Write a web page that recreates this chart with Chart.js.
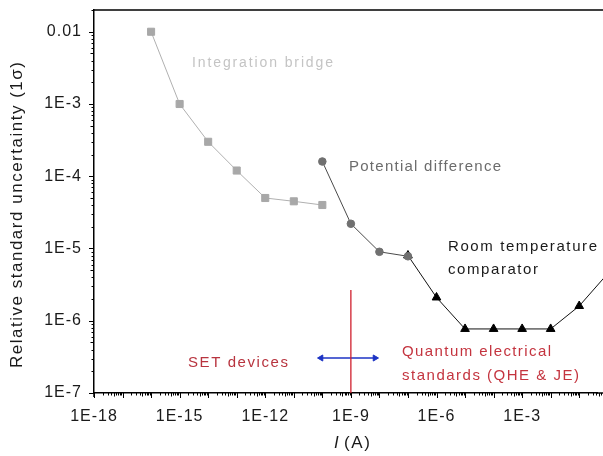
<!DOCTYPE html>
<html>
<head>
<meta charset="utf-8">
<script src="https://cdn.jsdelivr.net/npm/chart.js@4/dist/chart.umd.min.js"></script>
<style>
  html, body { margin: 0; padding: 0; background: #fff; }
  #caja { width: 603px; height: 456px; }
</style>
</head>
<body>
<div id="caja"><canvas id="incertidumbre"></canvas></div>
<script>
// DATOS: corriente I (A) contra incertidumbre relativa (1 sigma)

const puenteI = [1e-16, 1e-15, 1e-14, 1e-13, 1e-12, 1e-11, 1e-10]
const puenteU = [1e-2, 1e-3, 3e-4, 1.2e-4, 5e-5, 4.5e-5, 4e-5]

const potencialI = [1e-10, 1e-9, 1e-8, 1e-7]
const potencialU = [1.6e-4, 2.2e-5, 9e-6, 7.8e-6]

const comparadorI = [1e-7, 1e-6, 1e-5, 1e-4, 1e-3, 1e-2, 1e-1, 1]
const comparadorU = [8e-6, 2.1e-6, 7.7e-7, 7.7e-7, 7.7e-7, 7.7e-7, 1.6e-6, 4.5e-6]

// linea roja en 1 nA y flecha azul
const lineaRojaI = [1e-9, 1e-9]
const lineaRojaU = [2.66e-6, 1e-7]
const flechaI = [9e-11, 7e-9]
const flechaU = [3.05e-7, 3.05e-7]

const ticksX = [1e-18, 1e-15, 1e-12, 1e-9, 1e-6, 1e-3]
const etiquetasX = ['1E-18', '1E-15', '1E-12', '1E-9', '1E-6', '1E-3']
const ticksY = [1e-2, 1e-3, 1e-4, 1e-5, 1e-6, 1e-7]
const etiquetasY = ['0.01', '1E-3', '1E-4', '1E-5', '1E-6', '1E-7']

const FUENTE = '"Liberation Sans", Arial, sans-serif'

const puntos = (xs, ys) => xs.map((x, i) => ({ x: x, y: ys[i] }))

function etiqueta(valores, textos, v) {
    const i = valores.findIndex((t) => Math.abs(Math.log10(t) - Math.log10(v)) < 1e-6)
    return i >= 0 ? textos[i] : ''
}

// texto con espaciado ajustado a un ancho
function texto(ctx, str, x, y, ancho, size, color, estilo) {
    ctx.font = (estilo || '') + ' ' + size + 'px ' + FUENTE
    ctx.letterSpacing = '0px'
    const w = ctx.measureText(str).width
    const sp = str.length > 1 ? (ancho - w) / (str.length - 1) : 0
    ctx.letterSpacing = Math.max(sp, 0) + 'px'
    ctx.fillStyle = color
    ctx.textAlign = 'left'
    ctx.textBaseline = 'middle'
    ctx.fillText(str, x, y)
    ctx.letterSpacing = '0px'
}

const marcas = {
    id: 'marcas',
    beforeDraw(chart) {
        chart.ctx.letterSpacing = '1px'
    },
    beforeDatasetsDraw(chart) {
        chart.ctx.letterSpacing = '0px'
    },
    afterDraw(chart) {
        const ctx = chart.ctx
        const a = chart.chartArea
        const sx = chart.scales.x
        const sy = chart.scales.y
        ctx.save()
        ctx.letterSpacing = '0px'
        ctx.strokeStyle = '#000'

        // marco superior hasta el borde
        ctx.lineWidth = 1.5
        ctx.beginPath()
        ctx.moveTo(a.left, a.top)
        ctx.lineTo(chart.width, a.top)
        ctx.moveTo(a.right, a.bottom)
        ctx.lineTo(chart.width, a.bottom)
        // el eje Y baja un poco bajo el eje X
        ctx.moveTo(a.left, a.bottom)
        ctx.lineTo(a.left, a.bottom + 4)
        ctx.stroke()

        // rayitas del eje X (decadas y menores)
        ctx.lineWidth = 1
        ctx.beginPath()
        for (let e = -18; e <= 0; e++) {
            for (let k = 1; k <= 9; k++) {
                const px = sx.getPixelForValue(k * Math.pow(10, e))
                if (px < a.left - 0.5 || px > chart.width) continue
                const largo = k === 1 ? 5 : (k === 5 ? 3.5 : 2.5)
                ctx.moveTo(Math.round(px) + 0.5, a.bottom)
                ctx.lineTo(Math.round(px) + 0.5, a.bottom + largo)
            }
        }
        // rayitas del eje Y
        for (let e = -7; e <= -2; e++) {
            for (let k = 1; k <= 9; k++) {
                const py = sy.getPixelForValue(k * Math.pow(10, e))
                if (py < a.top || py > a.bottom + 0.5) continue
                const largo = k === 1 ? 5 : (k === 5 ? 3.5 : 2.5)
                ctx.moveTo(a.left, Math.round(py) + 0.5)
                ctx.lineTo(a.left - largo, Math.round(py) + 0.5)
            }
        }
        ctx.stroke()
        ctx.restore()

        // titulos de los ejes
        ctx.save()
        ctx.translate(17, 215)
        ctx.rotate(-Math.PI / 2)
        texto(ctx, 'Relative standard uncertainty (1σ)', -153, 0, 306, 17, '#1a1a1a')
        ctx.restore()

        ctx.save()
        texto(ctx, 'I', 334, 443, 4, 17, '#1a1a1a', 'italic')
        texto(ctx, '(A)', 344, 443, 26, 17, '#1a1a1a')

        // rotulos
        texto(ctx, 'Integration bridge', 192, 63, 141, 14, '#c4c4c4')
        texto(ctx, 'Potential difference', 349, 167, 152, 15, '#6c6c6c')
        texto(ctx, 'Room temperature', 448, 247, 149, 15, '#1a1a1a')
        texto(ctx, 'comparator', 448, 270, 90, 15, '#1a1a1a')
        texto(ctx, 'SET devices', 188, 363, 100, 15, '#b8343f')
        texto(ctx, 'Quantum electrical', 402, 352, 149, 15, '#c4343f')
        texto(ctx, 'standards (QHE & JE)', 402, 376, 177, 15, '#c4343f')
        ctx.restore()
    }
}

let ctx = document.getElementById('incertidumbre').getContext('2d')
let grafico = new Chart(ctx, {
    type: 'line',
    data: {
        datasets: [
            {
                label: 'Potential difference',
                data: puntos(potencialI, potencialU),
                borderColor: '#4a4a4a',
                borderWidth: 1,
                pointStyle: 'circle',
                pointRadius: 3.8,
                pointBackgroundColor: '#707070',
                pointBorderColor: '#707070',
                pointBorderWidth: 1
            },
            {
                label: 'Integration bridge',
                data: puntos(puenteI, puenteU),
                borderColor: '#b0b0b0',
                borderWidth: 1,
                pointStyle: 'rect',
                pointRadius: 5,
                pointBackgroundColor: '#a8a8a8',
                pointBorderColor: '#a8a8a8',
                pointBorderWidth: 1
            },
            {
                label: 'Room temperature comparator',
                data: puntos(comparadorI, comparadorU),
                borderColor: '#111',
                borderWidth: 1,
                pointStyle: 'triangle',
                pointRadius: 5,
                pointBackgroundColor: '#000',
                pointBorderColor: '#000',
                pointBorderWidth: 1,
                clip: false
            },
            {
                label: 'linea roja',
                data: puntos(lineaRojaI, lineaRojaU),
                borderColor: '#d0202e',
                borderWidth: 1.3,
                pointRadius: 0
            },
            {
                label: 'flecha',
                data: puntos(flechaI, flechaU),
                borderColor: '#1c33c4',
                borderWidth: 1.5,
                pointStyle: 'triangle',
                pointRadius: 3.5,
                pointRotation: [-90, 90],
                pointBackgroundColor: '#1c33c4',
                pointBorderColor: '#1c33c4',
                pointBorderWidth: 1
            }
        ]
    },
    options: {
        responsive: true,
        maintainAspectRatio: false,
        animation: false,
        events: [],
        layout: { padding: { top: 10, right: 0, left: 0, bottom: 0 } },
        plugins: {
            legend: { display: false },
            tooltip: { enabled: false }
        },
        scales: {
            x: {
                type: 'logarithmic',
                min: 1e-18,
                max: 0.42,
                afterFit: (s) => { s.height = 63; s.paddingLeft = 0; s.paddingRight = 0 },
                afterBuildTicks: (s) => { s.ticks = ticksX.map((v) => ({ value: v })) },
                grid: { display: false },
                border: { display: true, color: '#000', width: 1.5 },
                ticks: {
                    autoSkip: false,
                    maxRotation: 0,
                    padding: 6,
                    color: '#1a1a1a',
                    font: { family: FUENTE, size: 16 },
                    callback: (v) => etiqueta(ticksX, etiquetasX, v)
                }
            },
            y: {
                type: 'logarithmic',
                min: 1e-7,
                max: 0.02,
                afterFit: (s) => { s.width = 94; s.paddingTop = 0; s.paddingBottom = 0 },
                afterBuildTicks: (s) => { s.ticks = ticksY.map((v) => ({ value: v })) },
                grid: { display: false },
                border: { display: true, color: '#000', width: 1.5 },
                ticks: {
                    autoSkip: false,
                    padding: 4,
                    color: '#1a1a1a',
                    font: { family: FUENTE, size: 16 },
                    callback: (v) => etiqueta(ticksY, etiquetasY, v)
                }
            }
        }
    },
    plugins: [marcas]
})
</script>
</body>
</html>
